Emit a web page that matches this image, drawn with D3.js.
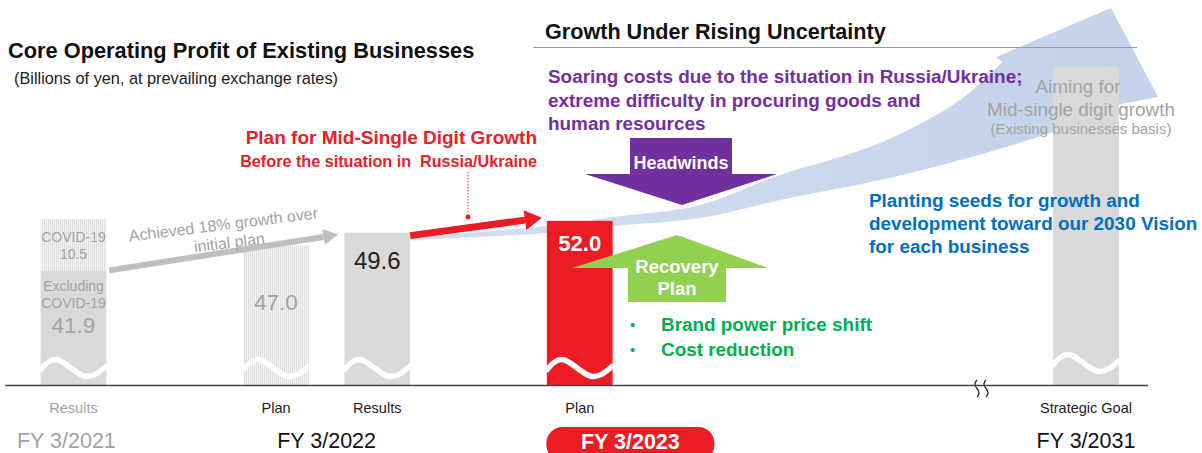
<!DOCTYPE html>
<html>
<head>
<meta charset="utf-8">
<script src="https://cdn.jsdelivr.net/npm/d3@7"></script>
<style>
  body { margin: 0; background: #fff; }
  svg { display: block; font-family: "Liberation Sans", Arial, sans-serif; }
</style>
</head>
<body>
<svg id="chart" width="1202" height="453"></svg>
<script>
// ---- data ----
const categories = ["Results", "Plan", "Results", "Plan", "Strategic Goal"];
const barYears = ["FY 3/2021", "FY 3/2022", "FY 3/2022", "FY 3/2023", "FY 3/2031"];
const barSlots = [0, 2, 3, 5, 10];
const baseValues = [41.9, 47.0, 49.6, 52.0, 83.4]; // goal bar is illustrative only
const covidValues = [10.5, 0, 0, 0, 0];
const barLabels = ["41.9", "47.0", "49.6", "52.0", ""];
const yearLabels = ["FY 3/2021", "FY 3/2022", "FY 3/2023", "FY 3/2031"];
const yearSlots = [-0.07, 2.5, 5.5, 10];
const currentYear = "FY 3/2023";

const width = 1202, height = 453;
const svg = d3.select("#chart");
const defs = svg.append("defs");

const x = d3.scaleLinear().domain([0, 10]).range([73.5, 1086]);
const y = d3.scaleLinear().domain([18.5, 83.4]).range([385, 67]);
const barW = x(0.65) - x(0);

// hatch pattern for plan / covid portions
const pat = defs.append("pattern")
    .attr("id", "hatch")
    .attr("width", 2).attr("height", 2)
    .attr("patternUnits", "userSpaceOnUse");
pat.append("rect").attr("width", 2).attr("height", 2).attr("fill", "#f4f4f4");
pat.append("rect").attr("width", 1).attr("height", 2).attr("fill", "#dedede");

const grad = defs.append("linearGradient")
    .attr("id", "blueGrad")
    .attr("x1", "0%").attr("x2", "100%").attr("y1", "0%").attr("y2", "0%");
grad.append("stop").attr("offset", "0%").attr("stop-color", "#d3def0");
grad.append("stop").attr("offset", "100%").attr("stop-color", "#c3d2ea");

// ---- big blue growth arrow (background) ----
const sweep = d3.line().curve(d3.curveCatmullRom);
const upperEdge = [[410, 237], [547, 226], [613, 217], [700, 205], [777, 176], [880, 143], [960, 100], [1002, 62]];
const lowerEdge = [[1121, 104], [1050, 133], [960, 160], [880, 180], [780, 200], [700, 218], [613, 226], [547, 233], [410, 240]];
svg.append("path")
    .attr("d", sweep(upperEdge) + "L996,57L1111,8L1158,97" + sweep(lowerEdge).replace(/^M/, "L") + "Z")
    .attr("fill", "url(#blueGrad)");

// ---- headers ----
svg.append("text").attr("x", 8).attr("y", 58)
    .attr("font-size", 21.8).attr("font-weight", "bold").attr("fill", "#111")
    .text("Core Operating Profit of Existing Businesses");
svg.append("text").attr("x", 14).attr("y", 84)
    .attr("font-size", 16.3).attr("fill", "#222")
    .text("(Billions of yen, at prevailing exchange rates)");

svg.append("text").attr("x", 545).attr("y", 39)
    .attr("font-size", 21.6).attr("font-weight", "bold").attr("fill", "#111")
    .text("Growth Under Rising Uncertainty");
svg.append("line")
    .attr("x1", 533).attr("x2", 1137).attr("y1", 47.5).attr("y2", 47.5)
    .attr("stroke", "#9a9a9a").attr("stroke-width", 1.2);

const purpleLines = ["Soaring costs due to the situation in Russia/Ukraine;",
  "extreme difficulty in procuring goods and", "human resources"];
svg.append("g").selectAll("text").data(purpleLines).enter().append("text")
    .attr("x", 548).attr("y", (d, i) => 83 + i * 23.5)
    .attr("font-size", 18.9).attr("font-weight", "bold").attr("fill", "#7030a0")
    .text(d => d);

// red plan heading
svg.append("text").attr("x", 537).attr("y", 144).attr("text-anchor", "end")
    .attr("font-size", 19).attr("font-weight", "bold").attr("fill", "#e8202a")
    .text("Plan for Mid-Single Digit Growth");
svg.append("text").attr("x", 537).attr("y", 167).attr("text-anchor", "end")
    .attr("font-size", 16.2).attr("font-weight", "bold").attr("fill", "#e8202a")
    .attr("xml:space", "preserve")
    .text("Before the situation in  Russia/Ukraine");
svg.append("line")
    .attr("x1", 468).attr("x2", 468).attr("y1", 172).attr("y2", 216)
    .attr("stroke", "#e8202a").attr("stroke-width", 1).attr("stroke-dasharray", "1.5,1.5");
svg.append("circle").attr("cx", 468).attr("cy", 217).attr("r", 2.5).attr("fill", "#e8202a");

// ---- bars ----
const bars = svg.append("g").selectAll("g")
    .data(baseValues.map((v, i) => ({ i, v, covid: covidValues[i], cat: categories[i], year: barYears[i] })))
    .enter().append("g");

function barFill(d) {
  if (d.year === currentYear) return "#ec1c24";
  if (d.cat === "Plan") return "url(#hatch)";
  return "#d9d9d9";
}

bars.append("rect")
    .attr("x", d => x(barSlots[d.i]) - barW / 2)
    .attr("width", barW)
    .attr("y", d => y(d.v))
    .attr("height", d => y.range()[0] - y(d.v))
    .attr("fill", barFill);

bars.filter(d => d.covid > 0).append("rect")
    .attr("x", d => x(barSlots[d.i]) - barW / 2)
    .attr("width", barW)
    .attr("y", d => y(d.v + d.covid))
    .attr("height", d => y(d.v) - y(d.v + d.covid))
    .attr("fill", "url(#hatch)");

// wave break in each bar
const wave = d3.line().curve(d3.curveNatural);
bars.append("path")
    .attr("d", d => {
      const x0 = x(barSlots[d.i]) - barW / 2, yc = d.i === 4 ? 363 : 368;
      return wave([[x0 - 1, yc + 3], [x0 + barW * 0.27, yc - 8], [x0 + barW * 0.66, yc + 8], [x0 + barW + 1, yc - 3]]);
    })
    .attr("fill", "none").attr("stroke", "#fff").attr("stroke-width", 5.5);

// value labels
const valueText = svg.append("g");
barLabels.forEach((lab, i) => {
  if (!lab) return;
  const cx = x(barSlots[i]);
  if (covidValues[i] > 0) {
    const g = valueText.append("g").attr("fill", "#a3a3a3").attr("text-anchor", "middle");
    g.append("text").attr("x", cx).attr("y", 242).attr("font-size", 14).text("COVID-19");
    g.append("text").attr("x", cx).attr("y", 259).attr("font-size", 14).text(String(covidValues[i]));
    g.append("text").attr("x", cx).attr("y", 291).attr("font-size", 14).text("Excluding");
    g.append("text").attr("x", cx).attr("y", 308).attr("font-size", 14).text("COVID-19");
    g.append("text").attr("x", cx).attr("y", 333).attr("font-size", 22.5).text(lab);
    return;
  }
  let fill = "#222", fy = y(baseValues[i]) + 36, weight = "normal", fs = 24;
  if (barYears[i] === currentYear) { fill = "#fff"; weight = "bold"; fy = y(baseValues[i]) + 30; fs = 22; }
  else if (categories[i] === "Plan") { fill = "#a3a3a3"; fy = 310; fs = 22.5; }
  valueText.append("text").attr("x", cx).attr("y", fy)
      .attr("text-anchor", "middle").attr("font-size", fs)
      .attr("font-weight", weight).attr("fill", fill).text(lab);
});

// ---- axis baseline & break ----
svg.append("line")
    .attr("x1", 5).attr("x2", 1148).attr("y1", 385.5).attr("y2", 385.5)
    .attr("stroke", "#444").attr("stroke-width", 1.5);
[977, 986].forEach(bx => {
  svg.append("path")
      .attr("d", `M${bx},380 q-4,4 0,8.5 q4,4.5 0,8.5`)
      .attr("fill", "none").attr("stroke", "#222").attr("stroke-width", 1.2);
});

// ---- category labels ----
svg.append("g").selectAll("text").data(categories).enter().append("text")
    .attr("x", (d, i) => x(barSlots[i]))
    .attr("y", 413)
    .attr("text-anchor", "middle").attr("font-size", 14.5)
    .attr("fill", (d, i) => barYears[i] === "FY 3/2021" ? "#a3a3a3" : "#222")
    .text(d => d);

// ---- fiscal year labels ----
yearLabels.forEach((lab, i) => {
  const cx = x(yearSlots[i]);
  if (lab === currentYear) {
    svg.append("rect").attr("x", cx - 84).attr("y", 427).attr("width", 168).attr("height", 34)
        .attr("rx", 16).attr("fill", "#ec1c24");
    svg.append("text").attr("x", cx).attr("y", 449).attr("text-anchor", "middle")
        .attr("font-size", 21.5).attr("font-weight", "bold").attr("fill", "#fff").text(lab);
  } else {
    svg.append("text").attr("x", cx).attr("y", 448).attr("text-anchor", "middle")
        .attr("font-size", 21.5).attr("fill", i === 0 ? "#a3a3a3" : "#111").text(lab);
  }
});

// ---- annotation arrows ----
function arrow(x1, y1, x2, y2, w, headL, headW, color) {
  const a = Math.atan2(y2 - y1, x2 - x1);
  const bx = x2 - headL * Math.cos(a), by = y2 - headL * Math.sin(a);
  const nx = -Math.sin(a), ny = Math.cos(a);
  svg.append("line").attr("x1", x1).attr("y1", y1).attr("x2", bx).attr("y2", by)
      .attr("stroke", color).attr("stroke-width", w);
  svg.append("path")
      .attr("d", `M${x2},${y2} L${bx + nx * headW},${by + ny * headW} L${bx - nx * headW},${by - ny * headW} Z`)
      .attr("fill", color);
}
const i21 = 0, i22 = 2, i23 = 3;
arrow(x(barSlots[i21]) + barW / 2 + 3, y(baseValues[i21]), x(barSlots[i22]) - barW / 2 - 6, y(baseValues[i22]) + 2, 6, 15, 8, "#bfbfbf");
arrow(x(barSlots[i22]) + barW / 2, y(baseValues[i22]) + 3, x(barSlots[i23]) - barW / 2 - 5, y(baseValues[i23]) - 3, 7, 17, 10, "#ec1c24");

svg.append("text").attr("transform", "translate(224,230) rotate(-7)")
    .attr("text-anchor", "middle").attr("font-size", 16).attr("fill", "#a3a3a3")
    .text("Achieved 18% growth over");
svg.append("text").attr("transform", "translate(230,248) rotate(-7)")
    .attr("text-anchor", "middle").attr("font-size", 16).attr("fill", "#a3a3a3")
    .text("initial plan");

// headwinds arrow
svg.append("path")
    .attr("d", "M630,138 L732,138 L732,174 L777,174 L682,205 L585,174 L630,174 Z")
    .attr("fill", "#7030a0");
svg.append("text").attr("x", 681).attr("y", 169).attr("text-anchor", "middle")
    .attr("font-size", 18).attr("font-weight", "bold").attr("fill", "#fff").text("Headwinds");

// recovery plan arrow
svg.append("path")
    .attr("d", "M677,235 L768,268 L726,268 L726,302 L628,302 L628,268 L572,268 Z")
    .attr("fill", "#92d050");
svg.append("text").attr("x", 677).attr("y", 273).attr("text-anchor", "middle")
    .attr("font-size", 18.5).attr("font-weight", "bold").attr("fill", "#fff").text("Recovery");
svg.append("text").attr("x", 677).attr("y", 295).attr("text-anchor", "middle")
    .attr("font-size", 18.5).attr("font-weight", "bold").attr("fill", "#fff").text("Plan");

const bullets = ["Brand power price shift", "Cost reduction"];
const bg = svg.append("g").attr("fill", "#00b050");
bullets.forEach((b, i) => {
  bg.append("text").attr("x", 630).attr("y", 330 + i * 25).attr("font-size", 15).text("\u2022");
  bg.append("text").attr("x", 661).attr("y", 331 + i * 25)
      .attr("font-size", 18.9).attr("font-weight", "bold").text(b);
});

// blue text
const blueLines = ["Planting seeds for growth and", "development toward our 2030 Vision", "for each business"];
svg.append("g").selectAll("text").data(blueLines).enter().append("text")
    .attr("x", 869).attr("y", (d, i) => 207 + i * 23)
    .attr("font-size", 18.9).attr("font-weight", "bold").attr("fill", "#0070c0")
    .text(d => d);

// goal annotation
const gx = x(barSlots[4]) - 5;
const ga = svg.append("g").attr("fill", "#a3a3a3").attr("text-anchor", "middle");
ga.append("text").attr("x", gx - 3).attr("y", 93).attr("font-size", 18.9).text("Aiming for");
ga.append("text").attr("x", gx).attr("y", 116).attr("font-size", 18.9).text("Mid-single digit growth");
ga.append("text").attr("x", gx).attr("y", 134).attr("font-size", 15).text("(Existing businesses basis)");
</script>
</body>
</html>
